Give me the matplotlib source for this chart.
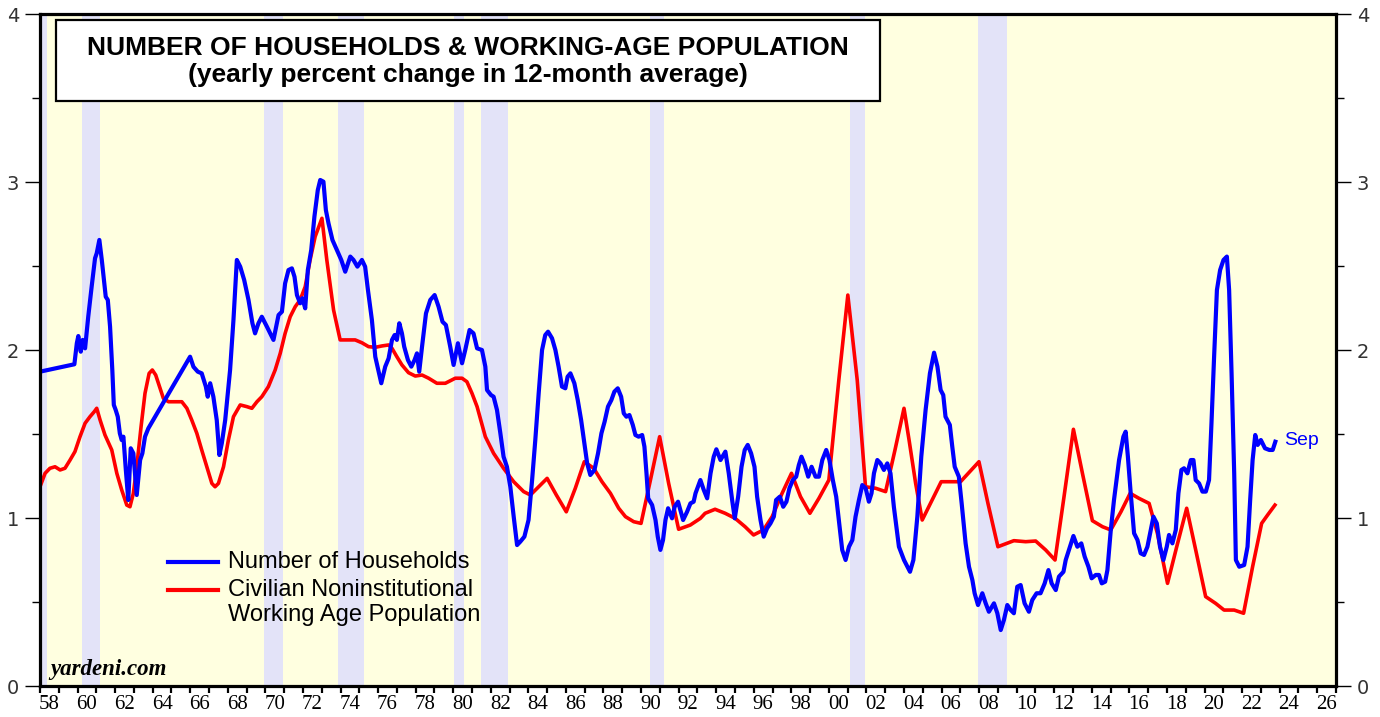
import matplotlib
matplotlib.use("Agg")
import matplotlib.pyplot as plt
from matplotlib.patches import Rectangle
from matplotlib.lines import Line2D
from matplotlib.ticker import FixedLocator, NullFormatter

# ---------------- data ----------------
hh_years = [1958.00, 1959.83, 1959.96, 1960.04, 1960.17, 1960.27, 1960.40, 1960.57, 1960.75, 1960.93,
            1961.02, 1961.16, 1961.29, 1961.50, 1961.61, 1961.73, 1961.85, 1961.93, 1962.03, 1962.14,
            1962.25, 1962.35, 1962.44, 1962.57, 1962.70, 1962.83, 1962.97, 1963.15, 1963.33, 1963.45,
            1963.59, 1963.77, 1965.99, 1966.17, 1966.40, 1966.61, 1966.83, 1966.93, 1967.06, 1967.23,
            1967.41, 1967.55, 1967.68, 1967.86, 1968.12, 1968.30, 1968.48, 1968.66, 1968.87, 1969.10,
            1969.31, 1969.45, 1969.63, 1969.81, 1970.08, 1970.43, 1970.70, 1970.88, 1971.05, 1971.23,
            1971.41, 1971.55, 1971.68, 1971.85, 1971.97, 1972.12, 1972.26, 1972.44, 1972.61, 1972.79,
            1972.92, 1973.09, 1973.22, 1973.36, 1973.57, 1973.81, 1974.04, 1974.25, 1974.52, 1974.69,
            1974.90, 1975.14, 1975.31, 1975.46, 1975.67, 1975.85, 1976.17, 1976.38, 1976.56, 1976.74,
            1976.88, 1977.00, 1977.13, 1977.27, 1977.39, 1977.59, 1977.77, 1977.94, 1978.07, 1978.19,
            1978.34, 1978.55, 1978.78, 1979.01, 1979.22, 1979.43, 1979.61, 1979.84, 1980.02, 1980.25,
            1980.47, 1980.64, 1980.87, 1981.08, 1981.27, 1981.53, 1981.71, 1981.80, 1982.01, 1982.15,
            1982.33, 1982.51, 1982.68, 1982.86, 1983.04, 1983.22, 1983.40, 1983.57, 1983.79, 1984.01,
            1984.20, 1984.37, 1984.55, 1984.73, 1984.90, 1985.05, 1985.26, 1985.44, 1985.61, 1985.79,
            1985.97, 1986.09, 1986.24, 1986.45, 1986.63, 1986.81, 1986.98, 1987.13, 1987.30, 1987.52,
            1987.71, 1987.89, 1988.06, 1988.24, 1988.42, 1988.58, 1988.76, 1988.94, 1989.08, 1989.22,
            1989.38, 1989.56, 1989.70, 1989.87, 1990.06, 1990.18, 1990.29, 1990.38, 1990.59, 1990.77,
            1990.89, 1991.03, 1991.17, 1991.30, 1991.44, 1991.65, 1991.79, 1991.97, 1992.24, 1992.45,
            1992.63, 1992.80, 1992.90, 1993.16, 1993.34, 1993.52, 1993.70, 1993.87, 1994.01, 1994.23,
            1994.49, 1994.67, 1994.85, 1994.99, 1995.17, 1995.35, 1995.52, 1995.68, 1995.86, 1996.04,
            1996.18, 1996.36, 1996.53, 1996.71, 1996.89, 1997.07, 1997.19, 1997.39, 1997.57, 1997.74,
            1997.90, 1998.08, 1998.26, 1998.40, 1998.54, 1998.72, 1998.90, 1999.08, 1999.29, 1999.47,
            1999.65, 1999.86, 2000.03, 2000.21, 2000.39, 2000.57, 2000.71, 2000.89, 2001.07, 2001.25,
            2001.42, 2001.60, 2001.78, 2001.96, 2002.13, 2002.27, 2002.40, 2002.58, 2002.75, 2002.93,
            2003.11, 2003.28, 2003.46, 2003.73, 2004.00, 2004.32, 2004.50, 2004.71, 2004.92, 2005.15,
            2005.38, 2005.60, 2005.78, 2005.95, 2006.09, 2006.21, 2006.44, 2006.57, 2006.70, 2006.92,
            2007.07, 2007.28, 2007.46, 2007.64, 2007.76, 2007.94, 2008.17, 2008.35, 2008.52, 2008.79,
            2008.97, 2009.15, 2009.32, 2009.50, 2009.68, 2009.85, 2010.03, 2010.21, 2010.42, 2010.65,
            2010.83, 2011.06, 2011.27, 2011.49, 2011.69, 2011.86, 2012.08, 2012.25, 2012.49, 2012.61,
            2012.78, 2013.02, 2013.23, 2013.44, 2013.62, 2013.82, 2013.99, 2014.21, 2014.38, 2014.53,
            2014.71, 2014.83, 2015.01, 2015.18, 2015.45, 2015.68, 2015.80, 2015.92, 2016.07, 2016.25,
            2016.43, 2016.60, 2016.78, 2016.96, 2017.14, 2017.28, 2017.46, 2017.63, 2017.81, 2017.99,
            2018.11, 2018.29, 2018.47, 2018.61, 2018.77, 2018.91, 2019.09, 2019.27, 2019.41, 2019.53,
            2019.71, 2019.89, 2020.07, 2020.24, 2020.37, 2020.51, 2020.66, 2020.83, 2021.01, 2021.19,
            2021.31, 2021.44, 2021.58, 2021.67, 2021.85, 2022.11, 2022.29, 2022.43, 2022.56, 2022.70,
            2022.83, 2023.00, 2023.22, 2023.45, 2023.63, 2023.77]
hh_pct = [1.871, 1.915, 2.040, 2.083, 1.990, 2.060, 2.010, 2.200, 2.377, 2.546,
          2.576, 2.655, 2.536, 2.317, 2.298, 2.139, 1.881, 1.673, 1.643, 1.603,
          1.504, 1.464, 1.484, 1.286, 1.107, 1.415, 1.385, 1.137, 1.345, 1.385,
          1.484, 1.534, 1.960, 1.900, 1.871, 1.861, 1.782, 1.722, 1.802, 1.722,
          1.583, 1.375, 1.445, 1.583, 1.881, 2.179, 2.536, 2.496, 2.417, 2.298,
          2.159, 2.099, 2.159, 2.198, 2.139, 2.060, 2.208, 2.228, 2.397, 2.476,
          2.486, 2.436, 2.327, 2.278, 2.308, 2.248, 2.476, 2.595, 2.794, 2.952,
          3.012, 3.002, 2.833, 2.754, 2.655, 2.595, 2.536, 2.466, 2.556, 2.536,
          2.496, 2.536, 2.496, 2.357, 2.179, 1.960, 1.802, 1.901, 1.950, 2.060,
          2.089, 2.060, 2.159, 2.099, 2.020, 1.940, 1.901, 1.940, 1.980, 1.871,
          2.020, 2.218, 2.298, 2.327, 2.258, 2.168, 2.149, 2.020, 1.911, 2.040,
          1.921, 2.000, 2.119, 2.099, 2.010, 2.000, 1.901, 1.762, 1.732, 1.722,
          1.643, 1.504, 1.365, 1.305, 1.186, 1.008, 0.839, 0.859, 0.889, 0.988,
          1.226, 1.464, 1.742, 2.000, 2.089, 2.109, 2.070, 2.000, 1.901, 1.782,
          1.772, 1.841, 1.861, 1.802, 1.702, 1.583, 1.445, 1.326, 1.256, 1.286,
          1.385, 1.504, 1.573, 1.663, 1.702, 1.752, 1.772, 1.722, 1.623, 1.603,
          1.613, 1.554, 1.494, 1.484, 1.494, 1.425, 1.266, 1.117, 1.077, 0.988,
          0.889, 0.810, 0.869, 0.988, 1.058, 0.998, 1.067, 1.097, 0.988, 1.037,
          1.087, 1.097, 1.147, 1.226, 1.167, 1.117, 1.266, 1.365, 1.409, 1.345,
          1.395, 1.266, 1.107, 0.998, 1.127, 1.305, 1.405, 1.435, 1.385, 1.305,
          1.127, 0.988, 0.889, 0.939, 0.968, 1.008, 1.107, 1.127, 1.067, 1.097,
          1.177, 1.226, 1.246, 1.315, 1.365, 1.315, 1.246, 1.305, 1.246, 1.246,
          1.345, 1.405, 1.345, 1.226, 1.127, 0.948, 0.810, 0.750, 0.829, 0.869,
          1.008, 1.107, 1.196, 1.177, 1.097, 1.147, 1.266, 1.345, 1.325, 1.286,
          1.325, 1.266, 1.067, 0.829, 0.750, 0.680, 0.750, 1.008, 1.365, 1.643,
          1.861, 1.984, 1.901, 1.762, 1.732, 1.603, 1.554, 1.425, 1.305, 1.246,
          1.087, 0.849, 0.710, 0.631, 0.552, 0.482, 0.552, 0.492, 0.442, 0.492,
          0.433, 0.333, 0.393, 0.482, 0.452, 0.433, 0.591, 0.601, 0.492, 0.442,
          0.512, 0.552, 0.552, 0.611, 0.690, 0.611, 0.571, 0.651, 0.680, 0.750,
          0.810, 0.893, 0.829, 0.849, 0.770, 0.710, 0.641, 0.661, 0.661, 0.611,
          0.621, 0.690, 0.929, 1.107, 1.345, 1.484, 1.514, 1.365, 1.147, 0.909,
          0.869, 0.790, 0.780, 0.829, 0.929, 1.008, 0.968, 0.829, 0.750, 0.829,
          0.899, 0.849, 0.929, 1.147, 1.286, 1.296, 1.266, 1.345, 1.345, 1.226,
          1.206, 1.157, 1.157, 1.226, 1.564, 1.960, 2.357, 2.476, 2.536, 2.556,
          2.357, 1.861, 1.266, 0.750, 0.710, 0.720, 0.829, 1.107, 1.345, 1.494,
          1.435, 1.464, 1.415, 1.405, 1.405, 1.454]

pop_years = [1958.00, 1958.27, 1958.53, 1958.80, 1959.07, 1959.33, 1959.60, 1959.86, 1960.13, 1960.40,
             1960.66, 1960.89, 1961.02, 1961.20, 1961.46, 1961.82, 1962.09, 1962.35, 1962.62, 1962.79,
             1962.97, 1963.15, 1963.38, 1963.59, 1963.81, 1963.98, 1964.16, 1964.39, 1964.57, 1964.84,
             1965.19, 1965.55, 1965.82, 1966.08, 1966.35, 1966.61, 1966.88, 1967.15, 1967.32, 1967.50,
             1967.77, 1968.03, 1968.30, 1968.66, 1969.01, 1969.28, 1969.55, 1969.81, 1970.16, 1970.52,
             1970.79, 1971.05, 1971.32, 1971.59, 1971.85, 1972.12, 1972.38, 1972.65, 1973.01, 1973.27,
             1973.63, 1973.98, 1974.43, 1974.78, 1975.14, 1975.49, 1975.85, 1976.20, 1976.56, 1976.74,
             1977.00, 1977.27, 1977.62, 1977.98, 1978.34, 1978.69, 1979.13, 1979.58, 1980.11, 1980.47,
             1980.73, 1981.00, 1981.27, 1981.71, 1982.15, 1982.68, 1983.22, 1983.75, 1984.11, 1984.55,
             1985.00, 1985.49, 1986.02, 1986.50, 1986.98, 1987.48, 1987.92, 1988.37, 1988.81, 1989.17,
             1989.61, 1990.00, 1990.50, 1990.99, 1991.47, 1992.00, 1992.62, 1993.16, 1993.41, 1993.94,
             1994.48, 1995.01, 1995.54, 1995.99, 1996.52, 1996.98, 1997.51, 1998.01, 1998.49, 1998.99,
             1999.47, 2000.00, 2000.53, 2001.01, 2001.51, 2001.95, 2002.49, 2003.02, 2003.52, 2004.00,
             2004.27, 2004.62, 2004.97, 2005.50, 2005.98, 2006.66, 2007.01, 2007.99, 2008.47, 2009.00,
             2009.85, 2010.48, 2011.01, 2011.54, 2012.04, 2012.52, 2013.02, 2013.50, 2014.03, 2014.57,
             2015.01, 2015.55, 2016.04, 2016.51, 2017.05, 2017.49, 2018.03, 2018.52, 2019.05, 2019.53,
             2020.06, 2020.59, 2021.04, 2021.58, 2022.08, 2022.56, 2023.04, 2023.36, 2023.75]
pop_pct = [1.186, 1.266, 1.296, 1.305, 1.286, 1.296, 1.345, 1.395, 1.484, 1.564,
           1.603, 1.633, 1.653, 1.583, 1.494, 1.405, 1.266, 1.167, 1.077, 1.067,
           1.147, 1.305, 1.543, 1.742, 1.861, 1.881, 1.851, 1.772, 1.712, 1.692,
           1.692, 1.692, 1.653, 1.583, 1.504, 1.405, 1.305, 1.206, 1.186, 1.206,
           1.305, 1.464, 1.603, 1.673, 1.663, 1.653, 1.692, 1.722, 1.782, 1.881,
           1.980, 2.099, 2.198, 2.258, 2.298, 2.377, 2.536, 2.675, 2.784, 2.536,
           2.238, 2.060, 2.060, 2.060, 2.043, 2.020, 2.016, 2.024, 2.030, 2.010,
           1.960, 1.911, 1.865, 1.845, 1.851, 1.832, 1.802, 1.802, 1.832, 1.832,
           1.811, 1.742, 1.663, 1.484, 1.385, 1.296, 1.216, 1.157, 1.137, 1.186,
           1.236, 1.137, 1.037, 1.177, 1.335, 1.296, 1.216, 1.147, 1.058, 1.008,
           0.978, 0.968, 1.226, 1.484, 1.206, 0.933, 0.958, 0.998, 1.028, 1.052,
           1.028, 0.998, 0.948, 0.899, 0.929, 1.008, 1.147, 1.266, 1.127, 1.028,
           1.117, 1.226, 1.821, 2.327, 1.821, 1.186, 1.177, 1.157, 1.405, 1.653,
           1.464, 1.206, 0.988, 1.107, 1.216, 1.216, 1.216, 1.335, 1.087, 0.829,
           0.865, 0.859, 0.863, 0.810, 0.750, 1.127, 1.528, 1.266, 0.984, 0.948,
           0.929, 1.037, 1.147, 1.117, 1.087, 0.909, 0.611, 0.829, 1.058, 0.810,
           0.532, 0.492, 0.452, 0.452, 0.433, 0.710, 0.968, 1.018, 1.077]

rec_start = [1957.6, 1960.25, 1969.93, 1973.84, 1980.02, 1981.50, 1990.50, 2001.15, 2007.94]
rec_end = [1958.35, 1961.20, 1970.95, 1975.25, 1980.59, 1982.92, 1991.23, 2001.95, 2009.50]

year_labels = ["58", "60", "62", "64", "66", "68", "70", "72", "74", "76", "78", "80", "82", "84",
               "86", "88", "90", "92", "94", "96", "98", "00", "02", "04", "06", "08", "10", "12",
               "14", "16", "18", "20", "22", "24", "26"]
y_labels = ["0", "1", "2", "3", "4"]
series_names = ["Number of Households", "Civilian Noninstitutional", "Working Age Population"]

# ---------------- figure ----------------
W, H = 1380, 717
PX = 72 / 100  # points per pixel
fig = plt.figure(figsize=(W / 100, H / 100), dpi=100)
fig.patch.set_facecolor("white")
ax = fig.add_axes([40 / W, 1 - 686 / H, (1336 - 40) / W, (686 - 14) / H])
ax.set_facecolor("#FFFFE0")

x0, x1 = 1958, 2027
ax.set_xlim(x0, x1)
ax.set_ylim(0, 4)

for s, e in zip(rec_start, rec_end):
    ax.axvspan(max(s, x0), e, color="#E3E3F8", lw=0, zorder=1)

ax.plot(pop_years, pop_pct, color="#FF0000", lw=2.6, zorder=3, solid_joinstyle="round")
ax.plot(hh_years, hh_pct, color="#0000FF", lw=3.0, zorder=4, solid_joinstyle="round")

ax.text(hh_years[-1] + 0.45, hh_pct[-1] + 0.01, "Sep", color="#0000FF", fontsize=14,
        family="Liberation Sans", va="center", ha="left", zorder=5)

# spines
for sp in ax.spines.values():
    sp.set_linewidth(2.3)
    sp.set_color("black")
    sp.set_zorder(6)

# x ticks: major every year (unlabelled), labels at mid-year of even years
ax.xaxis.set_major_locator(FixedLocator(list(range(x0, x1 + 1))))
ax.xaxis.set_major_formatter(NullFormatter())
lab_pos = [1958.5 + 2 * i for i in range(len(year_labels))]
ax.xaxis.set_minor_locator(FixedLocator(lab_pos))
ax.set_xticklabels(year_labels, minor=True)
ax.tick_params(axis="x", which="major", direction="out", length=7 * PX, width=1.6, color="black")
ax.tick_params(axis="x", which="minor", length=0, pad=9 * PX, labelsize=15, labelcolor="black")
for t in ax.get_xticklabels(minor=True):
    t.set_family("Liberation Serif")

# y ticks both sides
ax.set_yticks([0, 1, 2, 3, 4])
ax.set_yticklabels(y_labels)
ax.set_yticks([0.5, 1.5, 2.5, 3.5], minor=True)
ax.tick_params(axis="y", which="major", direction="out", length=15 * PX, width=1.0,
               left=True, right=True, labelleft=True, labelright=True,
               labelsize=14, labelcolor="#333333", pad=6 * PX)
ax.tick_params(axis="y", which="minor", direction="out", length=8 * PX, width=1.0,
               left=True, right=True)
for t in ax.get_yticklabels():
    t.set_family("DejaVu Sans")


def ax_xy(px, py):
    return (px - 40) / 1296, (686 - py) / 672


# title box
bx, by = ax_xy(56, 101)
box = Rectangle((bx, by), (880 - 56) / 1296, (101 - 20) / 672,
                transform=ax.transAxes, facecolor="white", edgecolor="black", lw=1.6, zorder=7)
ax.add_patch(box)
cx, ty1 = ax_xy(468, 48)
_, ty2 = ax_xy(468, 75)
ax.text(cx, ty1, "NUMBER OF HOUSEHOLDS & WORKING-AGE POPULATION",
        transform=ax.transAxes, ha="center", va="center", fontsize=19, fontweight="bold",
        family="Liberation Sans", zorder=8)
ax.text(cx, ty2, "(yearly percent change in 12-month average)",
        transform=ax.transAxes, ha="center", va="center", fontsize=19, fontweight="bold",
        family="Liberation Sans", zorder=8)

# legend (manual)
lx0, ly1 = ax_xy(168, 562)
lx1, ly2 = ax_xy(218, 590)
tx, ly3 = ax_xy(228, 615)
ax.add_line(Line2D([lx0, lx1], [ly1, ly1], transform=ax.transAxes, color="#0000FF", lw=3.0, zorder=8))
ax.add_line(Line2D([lx0, lx1], [ly2, ly2], transform=ax.transAxes, color="#FF0000", lw=3.0, zorder=8))
for name, yy in zip(series_names, [ly1, ly2, ly3]):
    ax.text(tx, yy, name, transform=ax.transAxes, ha="left", va="center",
            fontsize=17, family="Liberation Sans", zorder=8)

# watermark
wx, wy = ax_xy(50, 670)
ax.text(wx, wy, "yardeni.com", transform=ax.transAxes,
        ha="left", va="center", fontsize=16.5, fontweight="bold", fontstyle="italic",
        family="Liberation Serif", zorder=8)

fig.savefig("out.png", dpi=100, facecolor="white")
